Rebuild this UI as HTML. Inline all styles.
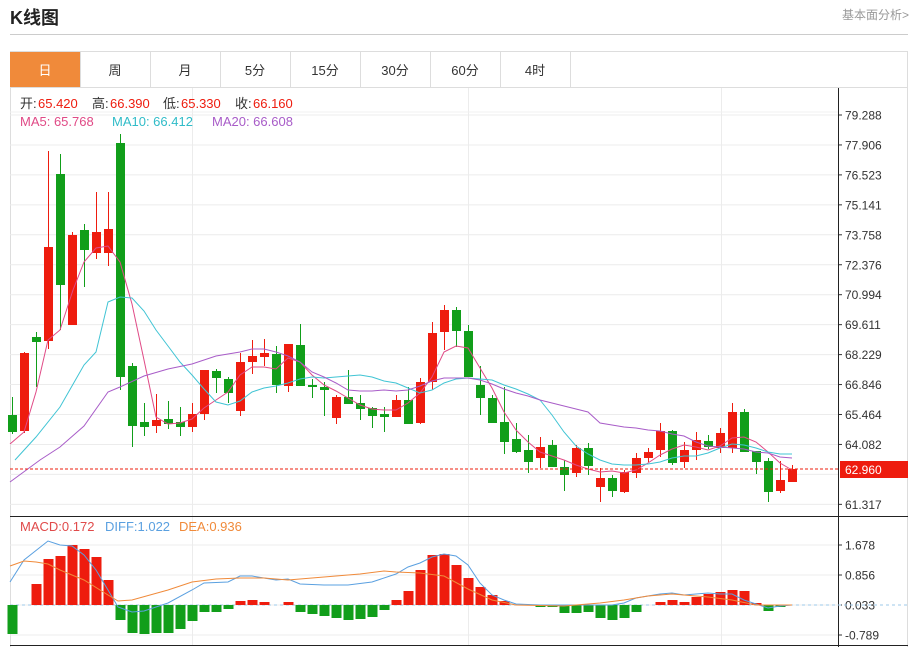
<!DOCTYPE html>
<html><head><meta charset="utf-8"><style>
body{margin:0;background:#fff;width:915px;height:647px;overflow:hidden;font-family:"Liberation Sans","Noto Sans CJK SC",sans-serif;}
.t{position:absolute;}
</style></head><body>
<div class="t" style="left:10px;top:4px;font-size:18px;font-weight:bold;color:#222;">K线图</div>
<div class="t" style="right:6px;top:6px;font-size:12px;color:#999;">基本面分析&gt;</div>
<div class="t" style="left:10px;top:34px;width:898px;height:1px;background:#ccc;"></div>
<svg id="s" class="t" style="left:0;top:0" width="915" height="647" xmlns="http://www.w3.org/2000/svg"></svg>
<script>
var s=document.getElementById('s'),h='';
function L(x1,y1,x2,y2,c,w,d){h+='<line x1="'+x1+'" y1="'+y1+'" x2="'+x2+'" y2="'+y2+'" stroke="'+c+'" stroke-width="'+(w||1)+'"'+(d?' stroke-dasharray="'+d+'"':'')+'/>';}
function R(x,y,w,hh,c){h+='<rect x="'+x+'" y="'+y+'" width="'+w+'" height="'+hh+'" fill="'+c+'"/>';}
function T(x,y,t,c,sz,a){h+='<text x="'+x+'" y="'+y+'" fill="'+c+'" font-size="'+(sz||13)+'"'+(a?' text-anchor="'+a+'"':'')+'>'+t+'</text>';}
function P(pts,c){h+='<polyline fill="none" stroke="'+c+'" stroke-width="1" points="'+pts+'"/>';}
h+='<rect x="10.5" y="51.5" width="897" height="600" fill="none" stroke="#ddd"/>';
var tabs=['日','周','月','5分','15分','30分','60分','4时'];
for(var i=0;i<8;i++){var x=10+i*70;if(i==0)R(x,52,70,35,'#f08a3a');L(x+70.5,52,x+70.5,87,'#ddd');T(x+35,75,tabs[i],i==0?'#fff':'#333',13,'middle');}
L(10,87.5,908,87.5,'#ddd');
var lab=['79.288','77.906','76.523','75.141','73.758','72.376','70.994','69.611','68.229','66.846','65.464','64.082','62.699','61.317'];
for(var i=0;i<14;i++){var y=115+i*29.95;L(10,y,838,y,'#ececec');if(i!=12){L(838,y,842,y,'#333');T(845,y+4.5,lab[i],'#333',12);}}
[192,468,721].forEach(function(x){L(x+.5,88,x+.5,645,'#ececec');});
L(10,112,838,112,'#f0f0f0');
var ml=[['1.678',545],['0.856',575],['0.033',605],['-0.789',635]];
ml.forEach(function(m){L(10,m[1],838,m[1],'#ececec');L(838,m[1],842,m[1],'#333');T(845,m[1]+4.5,m[0],'#333',12);});
L(10,516.5,908,516.5,'#222');L(10,645.5,908,645.5,'#222');L(838.5,88,838.5,647,'#222');
var c=[[0,415,432,397,434],[1,353,431,352,433],[0,337,342,332,387],[1,247,341,151,349],[0,174,285,154,330],[1,235,325,232,325],[0,230,250,224,287],[1,232,253,192,259],[1,229,253,192,266],[0,143,377,134,390],[0,366,426,363,447],[0,422,427,403,436],[1,420,426,394,433],[0,419,424,401,429],[0,422,427,407,436],[1,414,427,403,432],[1,370,414,370,420],[0,371,378,369,393],[0,379,393,377,403],[1,362,411,353,416],[1,356,362,340,374],[1,353,357,339,366],[0,354,385,346,393],[1,344,386,344,392],[0,345,386,324,386],[0,385,387,379,398],[0,387,390,382,416],[1,397,418,395,424],[0,397,404,370,404],[0,403,409,395,420],[0,408,416,407,428],[0,414,417,407,432],[1,400,417,395,417],[0,400,424,387,424],[1,382,423,378,424],[1,333,382,322,390],[1,310,332,305,350],[0,310,331,307,347],[0,331,377,325,377],[0,385,398,366,415],[0,398,423,395,423],[0,422,442,387,454],[0,439,452,423,453],[0,450,462,435,473],[1,447,458,437,468],[0,445,467,440,467],[0,467,475,460,491],[1,448,473,445,477],[0,448,466,443,475],[1,478,487,468,502],[0,478,491,475,497],[1,472,492,470,493],[1,458,473,453,478],[1,452,458,448,462],[1,431,450,423,457],[0,431,463,430,465],[1,450,462,442,468],[1,440,450,432,460],[0,441,447,435,449],[1,433,448,428,453],[1,412,448,403,453],[0,412,452,409,452],[0,451,462,451,474],[0,461,492,458,502],[1,480,491,461,493],[1,469,482,465,482]];
var RED='#ee1c0e',GR='#119e1a';
c.forEach(function(d,i){var x=12.5+12*i,col=d[0]?RED:GR;L(x,d[3],x,d[4],col);R(x-4.5,d[1],9,Math.max(1,d[2]-d[1]),col);});
P('10,444 24,432 36,392 48,340 60,330 73,290 84,262 96,248 108,246 120,262 132,304 144,360 156,417 168,424 180,423 192,419 204,408 216,400 228,392 240,375 252,367 264,367 276,369 288,358 300,362 312,375 324,385 336,391 348,398 360,405 372,409 384,410 396,410 408,403 420,393 432,377 444,352 456,346 468,348 480,368 492,388 504,412 516,430 528,442 540,452 552,456 564,460 576,465 588,469 600,472 612,471 624,473 636,470 648,463 660,455 672,449 684,445 696,447 708,450 720,446 732,438 744,437 756,442 768,452 780,463 792,470','#e04a86');
P('15,460 36,437 60,407 84,365 96,352 108,302 120,297 132,298 144,311 156,330 168,346 180,362 192,375 204,389 216,402 228,405 240,401 252,392 264,388 276,386 288,383 300,379 312,377 324,378 336,377 348,376 360,375 372,377 384,381 396,383 408,388 420,393 432,390 444,383 456,379 468,378 480,379 492,380 504,385 516,389 528,394 540,400 552,415 564,432 576,446 588,454 600,460 612,464 624,465 636,465 648,464 660,462 672,458 684,456 696,456 708,453 720,448 732,444 744,445 756,448 768,452 780,454 792,454','#40c4d4');
P('10,482 40,460 60,447 84,426 108,392 120,387 144,376 168,369 192,364 216,356 240,352 252,349 264,349 276,352 288,356 300,362 312,372 324,377 336,383 348,390 360,391 372,391 384,390 396,391 408,390 420,386 432,381 444,378 456,378 468,378 480,380 492,384 504,389 516,393 528,396 540,400 552,403 564,406 576,409 588,412 600,423 612,425 624,427 636,428 648,430 660,431 672,434 684,436 696,442 708,446 720,447 732,448 744,449 756,452 768,453 780,457 792,458','#a85cc8');
L(10,469,838,469,RED,1,'3,2');
R(840,461,68,17,RED);T(845,474,'62.960','#fff',12);
T(20,108,'开:','#333');T(38,108,'65.420',RED);
T(92,108,'高:','#333');T(110,108,'66.390',RED);
T(163,108,'低:','#333');T(181,108,'65.330',RED);
T(235,108,'收:','#333');T(253,108,'66.160',RED);
T(20,126,'MA5: 65.768','#e04a86');T(112,126,'MA10: 66.412','#30bcc8');T(212,126,'MA20: 66.608','#a85cc8');
T(20,531,'MACD:0.172','#e04a4a');T(105,531,'DIFF:1.022','#5aa0e0');T(179,531,'DEA:0.936','#f08a3a');
var m=[634,604,584,559,556,545,549,557,580,620,633,634,633,633,629,621,612,612,609,601,600,602,604,602,612,614,616,618,620,619,617,610,600,591,570,555,554,565,578,587,595,601,604,605,607,607,613,613,612,618,620,618,612,604,602,600,602,597,594,592,590,591,603,611,607,606];
L(10,605,908,605,'#9cc8e8',1,'3,3');
m.forEach(function(y,i){var x=12.5+12*i;var col=y<605?RED:GR;if(Math.abs(y-605)<1.5)return;R(x-5,Math.min(y,605),10,Math.abs(y-605),col);});
P('10,582 24,560 48,541 60,545 72,546 84,555 96,570 108,590 118,607 132,612 144,611 168,603 192,590 204,583 228,582 240,576 252,576 264,578 276,580 288,579 300,584 324,585 348,585 372,582 396,574 408,567 420,563 432,557 444,554 456,556 468,565 480,583 492,595 504,600 516,604 540,605 564,605 588,605 612,605 624,603 636,598 648,596 660,594 672,593 684,595 696,594 708,593 720,594 732,594 744,600 756,604 768,608 780,606 792,605','#5aa0e0');
P('10,566 24,561 36,562 48,564 60,570 84,580 108,595 118,601 132,600 168,590 192,582 216,579 240,578 264,578 288,580 312,578 336,576 360,574 384,571 396,572 420,573 444,576 468,589 492,600 516,605 564,606 600,603 624,600 648,596 672,594 708,597 732,600 756,605 792,605','#f08a3a');
s.innerHTML=h;
</script>
</body></html>
